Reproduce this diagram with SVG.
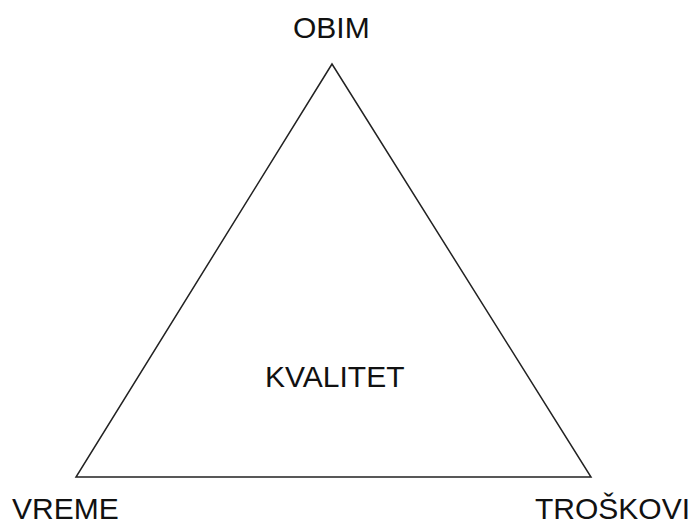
<svg xmlns="http://www.w3.org/2000/svg" width="689" height="526" viewBox="0 0 689 526">
<style>
.lbl{font-family:"Liberation Sans",Arial,sans-serif;font-size:30px;fill:#111;}
.edge{fill:none;stroke:#222;stroke-width:1.5;stroke-linejoin:miter;}
</style>
<rect width="689" height="526" fill="#fff"/>
<g id="connectors">
<polygon class="edge" points="332,64 76,477 591,477"/>
</g>
<g id="node-obim"><text class="lbl" x="293" y="38">OBIM</text></g>
<g id="node-kvalitet"><text class="lbl" x="265" y="387">KVALITET</text></g>
<g id="node-vreme"><text class="lbl" x="12" y="519">VREME</text></g>
<g id="node-troskovi"><text class="lbl" x="535" y="519">TROŠKOVI</text></g>
</svg>
